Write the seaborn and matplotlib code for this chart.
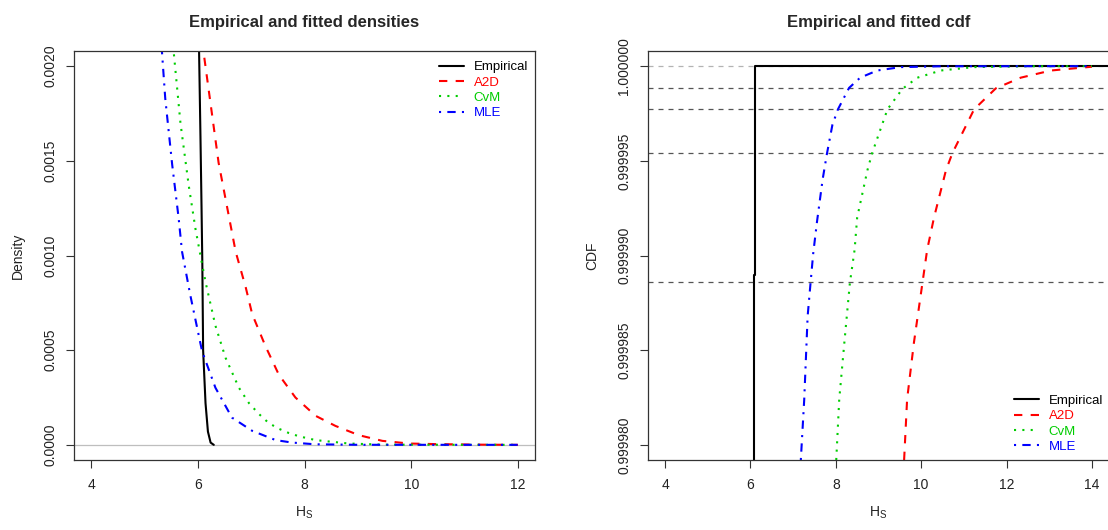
import numpy as np
import pandas as pd
import matplotlib
matplotlib.use("Agg")
import matplotlib.pyplot as plt
import seaborn as sns

# ---------------------------------------------------------------- data
# Tail of the significant wave height density (Hs in m)
emp_hs = [6.02, 6.05, 6.07, 6.085, 6.10, 6.145, 6.19, 6.24, 6.30]
emp_dens = [0.00215, 0.00163, 0.00126, 0.00096, 0.00050, 0.00022, 0.00007, 0.000012, 0.0]

a2d_hs = [6.08, 6.11, 6.39, 6.71, 6.90, 7.02, 7.27, 7.52, 7.83, 8.21, 8.58,
          9.02, 9.46, 9.96, 10.46, 11.3, 12.0]
a2d_dens = [0.00222, 0.00207, 0.00149, 0.00102, 0.00083, 0.00069, 0.00052,
            0.00037, 0.00025, 0.000153, 0.0001, 0.000051, 0.000021, 0.000007,
            0.000004, 0.000001, 0.0]

cvm_hs = [5.52, 5.55, 5.675, 5.83, 5.957, 6.05, 6.145, 6.33, 6.52, 6.77, 6.96,
          7.15, 7.33, 7.52, 7.71, 7.90, 8.21, 8.83, 9.5, 12.0]
cvm_dens = [0.00215, 0.00207, 0.00170, 0.00137, 0.00114, 0.00100, 0.000860,
            0.000630, 0.00046, 0.000302, 0.00022, 0.000162, 0.000115, 0.000085,
            0.000062, 0.000045, 0.000025, 0.000007, 0.000001, 0.0]

mle_hs = [5.30, 5.33, 5.39, 5.52, 5.64, 5.705, 5.86, 6.08, 6.33, 6.64, 7.02,
          7.46, 7.77, 8.2, 9.0, 12.0]
mle_dens = [0.00215, 0.00207, 0.00183, 0.00148, 0.00120, 0.00102, 0.00079,
            0.000495, 0.000302, 0.000144, 0.000074, 0.000025, 0.000012,
            0.000003, 0.0000003, 0.0]

# Upper tail of the cdf, stored as exceedance probability (x 1e-6)
ecdf_hs = [3.0, 6.085, 6.108, 15.0]
ecdf_exc = [40.0, 11.05, 0.0, 0.0]

a2d_cdf_hs = [9.60, 9.67, 9.83, 10.03, 10.14, 10.30, 10.58, 10.73, 11.24,
              11.75, 12.33, 13.04, 14.0]
a2d_cdf_exc = [20.8, 17.6, 14.6, 11.44, 9.7, 8.0, 5.5, 4.6, 2.28, 1.17, 0.61,
               0.23, 0.03]

cvm_cdf_hs = [8.01, 8.08, 8.20, 8.33, 8.44, 8.50, 8.74, 8.85, 9.21, 9.56, 9.91,
              10.46, 11.24, 12.5, 14.0]
cvm_cdf_exc = [20.8, 17.6, 14.6, 11.44, 9.7, 8.0, 5.5, 4.6, 2.28, 1.2, 0.61,
               0.23, 0.05, 0.005, 0.0]

mle_cdf_hs = [7.18, 7.26, 7.34, 7.41, 7.47, 7.56, 7.69, 7.79, 7.92, 8.05, 8.31,
              8.57, 8.97, 9.52, 10.5, 14.0]
mle_cdf_exc = [20.8, 17.6, 13.2, 11.4, 9.9, 8.2, 6.0, 4.65, 3.1, 2.28, 1.15,
               0.61, 0.23, 0.05, 0.005, 0.0]

# Return periods (years) for hourly observations
return_periods = [100, 50, 25, 10]
hours_per_year = 8760

dens_yticks = [0.0, 0.0005, 0.0010, 0.0015, 0.0020]
dens_ylabels = ["0.0000", "0.0005", "0.0010", "0.0015", "0.0020"]
cdf_yticks = [0.99998, 0.999985, 0.99999, 0.999995, 1.0]
cdf_ylabels = ["0.999980", "0.999985", "0.999990", "0.999995", "1.000000"]
dens_xticks = [4, 6, 8, 10, 12]
cdf_xticks = [4, 6, 8, 10, 12, 14]

# ---------------------------------------------------------------- style
sns.set_theme(style="white")
plt.rcParams["font.family"] = ["Liberation Sans", "DejaVu Sans"]
plt.rcParams["mathtext.fontset"] = "custom"
plt.rcParams["mathtext.rm"] = "Liberation Sans"
plt.rcParams["mathtext.it"] = "Liberation Sans"

RED = "#FF0000"
GREEN = "#00CD00"
BLUE = "#0000FF"
LW = 1.5
styles = {
    "Empirical": dict(color="black", linestyle="-"),
    "A2D": dict(color=RED, linestyle=(0, (4, 4))),
    "CvM": dict(color=GREEN, linestyle=(0, (1, 3))),
    "MLE": dict(color=BLUE, linestyle=(0, (1, 3, 4, 3))),
}
LEGEND_KW = dict(frameon=False, fontsize=9.5, handlelength=1.9,
                 handletextpad=0.76, labelspacing=0.24, borderpad=0,
                 borderaxespad=0, labelcolor="linecolor")

fig = plt.figure(figsize=(11.08, 5.30), dpi=100)
ax1 = fig.add_axes([74 / 1108, 1 - 460 / 530, 461 / 1108, 409 / 530])
ax2 = fig.add_axes([648 / 1108, 1 - 460 / 530, 461 / 1108, 409 / 530])


def style_axes(ax, xticks, yticks, ylabels, xlim, ylim):
    ax.set_xlim(*xlim)
    ax.set_ylim(*ylim)
    ax.set_xticks(xticks)
    ax.set_xticklabels([str(t) for t in xticks])
    ax.set_yticks(yticks)
    ax.set_yticklabels(ylabels, rotation=90, va="center")
    ax.tick_params(axis="both", which="major", direction="out", length=6,
                   width=0.8, color="#333333", labelsize=10, labelcolor="#222222",
                   bottom=True, left=True)
    ax.tick_params(axis="x", pad=7)
    ax.tick_params(axis="y", pad=6)
    for sp in ax.spines.values():
        sp.set_color("#333333")
        sp.set_linewidth(0.9)
    ax.set_xlabel(r"H$_\mathrm{S}$", fontsize=10, labelpad=9, color="#222222")


# ---------------------------------------------------------------- densities
dens_series = [
    ("Empirical", emp_hs, emp_dens),
    ("A2D", a2d_hs, a2d_dens),
    ("CvM", cvm_hs, cvm_dens),
    ("MLE", mle_hs, mle_dens),
]
ax1.axhline(0, color="#BEBEBE", lw=0.9, zorder=1)
for name, xs, ys in dens_series:
    sns.lineplot(x=xs, y=ys, ax=ax1, sort=False, estimator=None, label=name,
                 lw=LW, **styles[name])

style_axes(ax1, dens_xticks, dens_yticks, dens_ylabels,
           (3.68, 12.32), (-0.00008, 0.00208))
ax1.set_ylabel("Density", fontsize=10, labelpad=13, color="#222222")
ax1.set_title("Empirical and fitted densities", fontsize=12, fontweight="bold",
              pad=17)
ax1.legend(loc="upper right", bbox_to_anchor=(1 - 7 / 461, 1 - 10 / 409),
           **LEGEND_KW)

# ---------------------------------------------------------------- cdf
ax2.axhline(1.0, color="#B3B3B3", lw=0.9, linestyle=(0, (4, 4)), zorder=1)
for T in return_periods:
    ax2.axhline(1 - 1 / (hours_per_year * T), color="#555555", lw=0.9,
                linestyle=(0, (4, 4)), zorder=1)

cdf_series = [
    ("Empirical", ecdf_hs, ecdf_exc),
    ("A2D", a2d_cdf_hs, a2d_cdf_exc),
    ("CvM", cvm_cdf_hs, cvm_cdf_exc),
    ("MLE", mle_cdf_hs, mle_cdf_exc),
]
for name, xs, exc in cdf_series:
    cdf = [1 - e * 1e-6 for e in exc]
    extra = {"drawstyle": "steps-post"} if name == "Empirical" else {}
    sns.lineplot(x=xs, y=cdf, ax=ax2, sort=False, estimator=None, label=name,
                 lw=LW, **styles[name], **extra)

style_axes(ax2, cdf_xticks, cdf_yticks, cdf_ylabels,
           (3.6, 14.4), (0.99998 - 0.0000008, 1.0000008))
ax2.set_ylabel("CDF", fontsize=10, labelpad=13, color="#222222")
ax2.set_title("Empirical and fitted cdf", fontsize=12, fontweight="bold", pad=17)
ax2.legend(loc="lower right", bbox_to_anchor=(1 - 6 / 461, 7 / 409),
           **LEGEND_KW)

fig.savefig("out.png", dpi=100)
